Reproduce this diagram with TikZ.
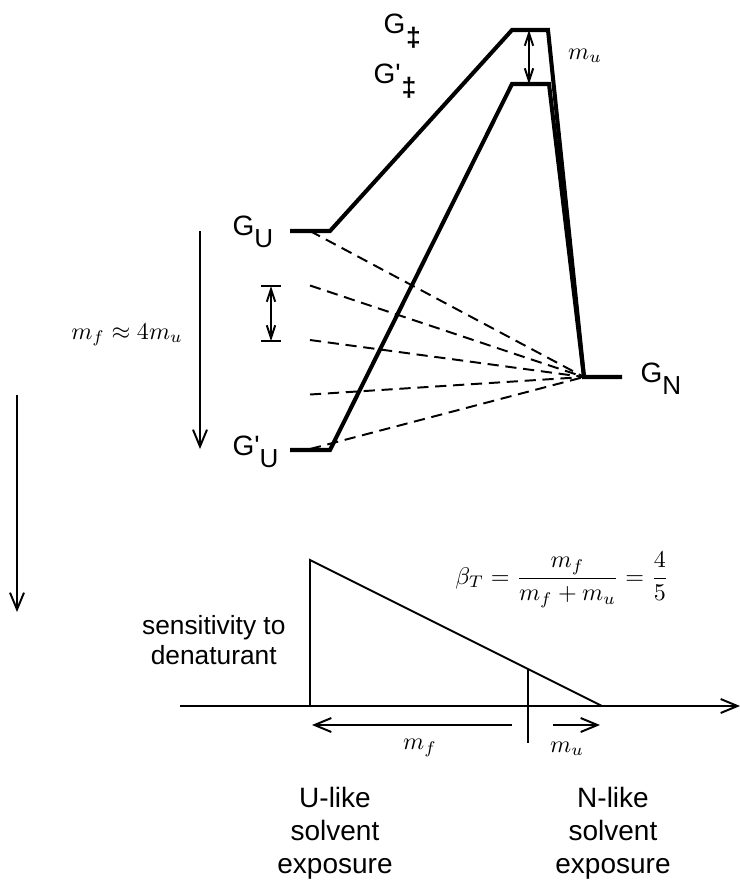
\documentclass[tikz,border=0pt]{standalone}
\usepackage{graphicx}
\usepackage{fontspec}
\setmainfont{Liberation Sans}
\usetikzlibrary{arrows.meta}
\newcommand{\lvlab}[2]{#1\raisebox{-4.4pt}{\fontsize{9.3}{10}\selectfont #2}}
\newcommand{\tslab}[1]{#1\kern0.3pt\raisebox{-4.7pt}{\fontsize{9.5}{10}\selectfont\bfseries ‡}}
\newcommand{\prm}{\textquotesingle}
\newcommand{\mth}[1]{\scalebox{0.86}{$#1$}}
\begin{document}
\begin{tikzpicture}[x=0.35714pt,y=-0.35714pt,
  profile/.style={line width=1.45pt},
  guide/.style={line width=0.7pt, dash pattern=on 4pt off 2.4pt},
  thin/.style={line width=0.7pt},
  bigarrow/.style={thin,-{Straight Barb[length=6pt,width=5pt]}},
  smallarrows/.style={thin,{Straight Barb[length=4.5pt,width=3pt]}-{Straight Barb[length=4.5pt,width=3pt]}},
  lab/.style={inner sep=0pt, anchor=base west},
  mlab/.style={inner sep=0pt}]
\useasboundingbox (0,0) rectangle (740,882);

% key points of the two free-energy profiles
\coordinate (UA) at (290,231);
\coordinate (UB) at (330,231);
\coordinate (TA) at (512,30);
\coordinate (TB) at (548,30);
\coordinate (UpA) at (290,450);
\coordinate (UpB) at (330,450);
\coordinate (TpA) at (512,84);
\coordinate (TpB) at (549,84);
\coordinate (NA) at (584,377);
\coordinate (NB) at (622,377);

% dashed lines
\foreach \yy in {231,285.5,340,394.5,449}
  \draw[guide] (310,\yy) -- (NA);

\draw[profile] (UA) -- (UB) -- (TA) -- (TB) -- (NA) -- (NB);
\draw[profile] (UpA) -- (UpB) -- (TpA) -- (TpB) -- (NA);

% labels of states
\node[lab] (gts) at (383,33) {\tslab{G}};
\node[lab] (gpts) at (373,83) {\tslab{G\prm}};
\node[lab] (gu) at (232,235) {\lvlab{G}{U}};
\node[lab] (gpu) at (232,455) {\lvlab{G\prm}{U}};
\node[lab] (gn) at (640,382) {\lvlab{G}{N}};

% m_u between transition states
\coordinate (mtop) at (529,30);
\coordinate (mbot) at (529,84);
\draw[smallarrows] (mtop) -- (mbot);
\node[mlab] (mu1) at (585,56) {\mth{m_u}};

% small I-beam
\coordinate (ib1) at (271,286);
\coordinate (ib2) at (271,341);
\draw[thin] (261,286) -- (281,286);
\draw[thin] (261,341) -- (281,341);
\draw[smallarrows] (ib1) -- (ib2);

% long arrows on the left
\coordinate (la1) at (200,231);
\coordinate (la2) at (200,449);
\draw[bigarrow] (la1) -- (la2);
\node[mlab] (mfmu) at (127,335) {\mth{m_f \approx 4m_u}};
\coordinate (lb1) at (17,395);
\coordinate (lb2) at (17,612);
\draw[bigarrow] (lb1) -- (lb2);

% lower plot
\coordinate (ax0) at (180,706);
\coordinate (ax1) at (740,706);
\coordinate (t0) at (310,706);
\coordinate (t1) at (310,560);
\coordinate (t2) at (602,706);
\draw[bigarrow] (ax0) -- (ax1);
\draw[thin] (t0) -- (t1) -- (t2);
\coordinate (tk1) at (528,669);
\coordinate (tk2) at (528,743);
\draw[thin] (tk1) -- (tk2);
\coordinate (af1) at (512,725);
\coordinate (af2) at (312,725);
\coordinate (au1) at (553,725);
\coordinate (au2) at (600,725);
\draw[bigarrow] (af1) -- (af2);
\draw[bigarrow] (au1) -- (au2);
\node[mlab] (mf2) at (420,748) {\mth{m_f}};
\node[mlab] (mu2) at (567,749) {\mth{m_u}};
\node[mlab] (beta) at (562,580) {\mth{\displaystyle \beta_T=\frac{m_f}{m_f+m_u}=\frac{4}{5}}};

\node[inner sep=0pt, align=center, anchor=north east, font={\fontsize{9.4}{10.7}\selectfont}] (sens) at (286,615) {sensitivity to\\denaturant};
\node[inner sep=0pt, align=center, anchor=north, font={\fontsize{10}{11.8}\selectfont}] (ulike) at (335,787) {U-like\\solvent\\exposure};
\node[inner sep=0pt, align=center, anchor=north, font={\fontsize{10}{11.8}\selectfont}] (nlike) at (613,787) {N-like\\solvent\\exposure};
\end{tikzpicture}
\end{document}
